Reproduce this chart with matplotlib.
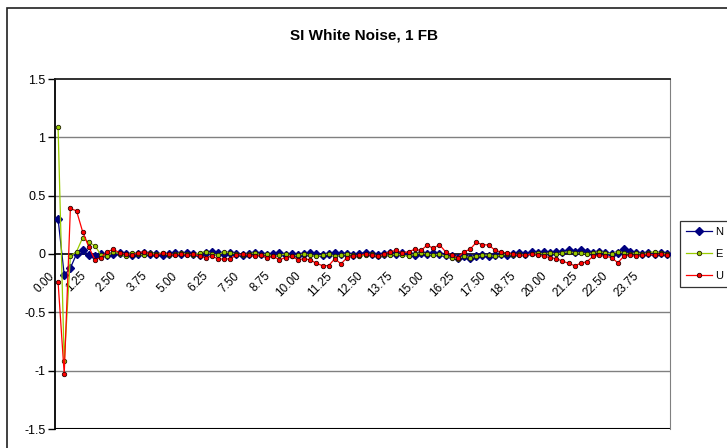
import numpy as np
import matplotlib.pyplot as plt
import matplotlib.transforms as mtransforms
from matplotlib.patches import Rectangle

plt.rcParams['font.family'] = ['Liberation Sans', 'DejaVu Sans']

# time axis, 0.25 step
times = [f"{0.25 * k:.2f}" for k in range(100)]

north = [0.30, -0.18, -0.12, 0.00, 0.035, -0.01, -0.02, 0.00, -0.01, 0.00,
         0.01, 0.00, -0.01, 0.00, 0.01, 0.00, 0.00, -0.01, 0.00, 0.01,
         0.00, 0.01, 0.00, -0.01, 0.01, 0.02, 0.01, 0.00, 0.01, 0.00,
         -0.01, 0.00, 0.01, 0.00, -0.01, 0.00, 0.01, -0.01, 0.00, -0.01,
         0.00, 0.01, 0.00, -0.01, 0.00, 0.01, 0.00, 0.00, -0.01, 0.00,
         0.01, 0.00, -0.01, 0.00, 0.01, 0.00, 0.01, 0.00, -0.01, 0.01,
         0.00, 0.01, 0.00, -0.01, -0.02, -0.03, -0.02, -0.03, -0.02, -0.01,
         -0.02, -0.01, 0.00, -0.01, 0.00, 0.01, 0.00, 0.02, 0.01, 0.02,
         0.01, 0.02, 0.02, 0.03, 0.02, 0.03, 0.02, 0.01, 0.02, 0.01,
         0.00, 0.01, 0.04, 0.02, 0.01, 0.00, 0.01, 0.00, 0.01, 0.00]

east = [1.09, -0.92, -0.02, 0.02, 0.14, 0.10, 0.07, -0.01, -0.02, 0.02,
        0.00, -0.02, 0.01, 0.00, -0.01, 0.01, 0.00, 0.01, -0.01, 0.00,
        0.01, 0.00, -0.01, 0.01, 0.02, 0.00, -0.01, 0.02, 0.01, 0.00,
        -0.01, 0.00, 0.01, -0.01, 0.00, -0.02, -0.01, 0.00, -0.02, -0.01,
        0.00, -0.01, -0.02, -0.01, 0.00, -0.02, -0.01, 0.00, -0.01, -0.02,
        -0.01, 0.00, -0.02, -0.01, -0.01, 0.00, -0.01, -0.02, 0.00, 0.01,
        0.00, -0.01, 0.00, -0.02, -0.03, -0.04, -0.02, -0.03, -0.02, -0.01,
        -0.01, -0.02, -0.01, 0.00, -0.01, 0.00, -0.01, 0.00, 0.01, 0.00,
        0.01, 0.00, 0.01, 0.02, 0.01, 0.01, 0.00, 0.01, 0.02, 0.01,
        0.00, 0.02, 0.01, 0.00, 0.01, 0.00, 0.01, 0.02, 0.01, 0.00]

up = [-0.24, -1.03, 0.39, 0.37, 0.19, 0.06, -0.05, -0.03, 0.02, 0.04,
      0.01, 0.00, -0.01, 0.01, 0.02, 0.00, -0.01, 0.01, 0.00, -0.01,
      0.00, -0.01, 0.00, -0.02, -0.03, -0.02, -0.04, -0.045, -0.04, -0.01,
      0.00, -0.01, -0.02, -0.01, -0.03, -0.02, -0.05, -0.03, -0.02, -0.05,
      -0.04, -0.05, -0.08, -0.10, -0.10, -0.04, -0.085, -0.03, -0.02, -0.01,
      0.00, -0.01, -0.02, 0.00, 0.02, 0.03, 0.01, 0.02, 0.04, 0.03,
      0.075, 0.05, 0.08, 0.02, -0.01, -0.03, 0.02, 0.04, 0.10, 0.08,
      0.077, 0.035, 0.015, 0.01, 0.00, -0.01, -0.01, 0.00, -0.01, -0.02,
      -0.03, -0.04, -0.06, -0.08, -0.10, -0.08, -0.065, -0.02, -0.01, -0.02,
      -0.03, -0.075, -0.02, -0.01, -0.02, -0.01, 0.00, -0.01, 0.00, -0.01]

labels = ['N', 'E', 'U']
yticks = [-1.5, -1, -0.5, 0, 0.5, 1, 1.5]
ytick_labels = ['-1.5', '-1', '-0.5', '0', '0.5', '1', '1.5']

fig = plt.figure(figsize=(7.27, 4.48), dpi=100)
ax = fig.add_axes([55 / 727, 1 - 429 / 448, 615 / 727, 350 / 448])

# outer chart border (runs off the right and bottom edges)
fig.patches.append(Rectangle((7 / 727, -0.1), 1.2, 1 - 8 / 448 + 0.1,
                             transform=fig.transFigure, fill=False,
                             edgecolor='#202020', linewidth=1.2))

x = np.arange(len(times))
ax.plot(x, north, color='#000080', lw=0.9, marker='D', ms=4.5,
        mfc='#000080', mec='#000080', label=labels[0], zorder=3)
ax.plot(x, east, color='#99CC00', lw=0.9, marker='o', ms=3.2,
        mfc='#99CC00', mec='#202000', mew=0.6, label=labels[1], zorder=4)
ax.plot(x, up, color='#FF0000', lw=0.9, marker='o', ms=3.2,
        mfc='#FF0000', mec='#300000', mew=0.6, label=labels[2], zorder=5)

ax.set_xlim(-0.5, len(times) - 0.5)
ax.set_ylim(-1.5, 1.5)
ax.set_yticks(yticks)
ax.set_yticklabels(ytick_labels, fontsize=9)
for v in [-1, -0.5, 0.5, 1]:
    ax.axhline(v, color='#808080', lw=1.0, zorder=1)
ax.axhline(-1.5, color='black', lw=1.5, zorder=2)

# category axis sits on y = 0
ax.spines['bottom'].set_position(('data', 0))
ax.spines['bottom'].set_color('black')
ax.spines['bottom'].set_linewidth(1.2)
ax.spines['top'].set_color('#202020')
ax.spines['top'].set_linewidth(1.3)
ax.spines['right'].set_color('#808080')
ax.spines['left'].set_linewidth(1.3)
ax.spines['bottom'].set_zorder(2)

ax.set_xticks(x[::5])
ax.set_xticklabels(times[::5], fontsize=8.5, rotation=45, ha='right',
                   rotation_mode='anchor', va='center')
ax.tick_params(axis='x', length=0, pad=8)
ax.tick_params(axis='y', length=5, width=1, pad=2, direction='out')

# nudge the slanted labels down and left
shift = mtransforms.ScaledTranslation(-0.05, -0.09, fig.dpi_scale_trans)
for lbl in ax.get_xticklabels():
    lbl.set_transform(lbl.get_transform() + shift)

fig.text(0.5, 1 - 35 / 448, 'SI White Noise, 1 FB', fontsize=11,
         fontweight='bold', ha='center', va='center')

leg = fig.legend(loc='upper left', bbox_to_anchor=(680 / 727, 1 - 221 / 448),
                 fontsize=8, frameon=True, fancybox=False, edgecolor='black',
                 handlelength=2.4, handletextpad=0.25, labelspacing=1.1,
                 borderpad=0.5, borderaxespad=0)
leg.get_frame().set_linewidth(0.9)

fig.savefig('out.png', dpi=100)
